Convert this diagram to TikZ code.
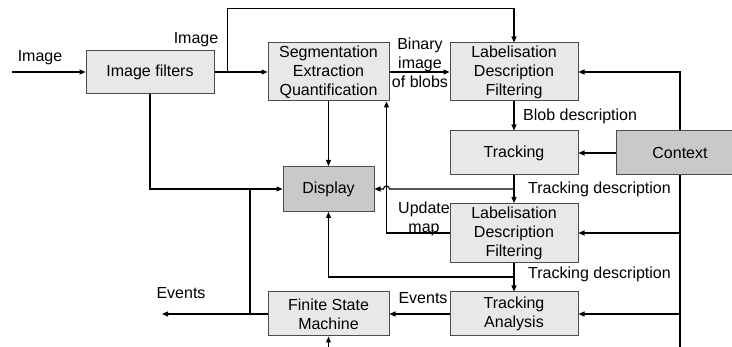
\documentclass[tikz,border=0pt]{standalone}
\usepackage{fontspec}
\setmainfont{Liberation Sans}
\usetikzlibrary{arrows.meta}
\begin{document}
\begin{tikzpicture}[x=1pt, y=-1pt, font=\fontsize{16}{19}\selectfont,
    blk/.style={rectangle, draw=black!70, line width=1pt, fill=black!9, align=center, inner sep=0pt, minimum width=128pt, minimum height=44pt},
    dblk/.style={blk, fill=black!21},
    lbl/.style={inner sep=0pt, align=center},
    wire/.style={line width=1.1pt},
    flow/.style={wire, -{Triangle[length=6pt,width=5pt]}}]
    \useasboundingbox (0,0) rectangle (732,347);

    \node[blk, minimum height=43pt] (filt) at (150,72) {Image filters};
    \node[blk, minimum width=121pt, minimum height=58pt] (seg) at (328.5,72) {Segmentation\\Extraction\\Quantification};
    \node[blk, minimum height=58pt] (lab1) at (514,72) {Labelisation\\Description\\Filtering};
    \node[blk] (track) at (514,153) {Tracking};
    \node[dblk] (ctx) at (680,153) {Context};
    \node[dblk, minimum width=91pt, minimum height=45pt] (disp) at (328.5,189) {Display};
    \node[blk, minimum height=59pt] (lab2) at (514,233) {Labelisation\\Description\\Filtering};
    \node[blk] (ta) at (514,314) {Tracking\\Analysis};
    \node[blk, minimum width=121pt] (fsm) at (328.5,314) {Finite State\\Machine};

    \node[lbl, xshift=-110pt, yshift=14pt] (in_lbl) at (filt) {Image};
    \node[lbl, xshift=46pt, yshift=32pt] (img_lbl) at (filt) {Image};
    \node[lbl, xshift=91.5pt, yshift=9pt] (bin_lbl) at (seg) {Binary\\image\\of blobs};
    \node[lbl, anchor=west, xshift=9pt, yshift=-44pt] (blob_lbl) at (lab1) {Blob description};
    \node[lbl, anchor=west, xshift=14pt, yshift=-36pt] (trd1_lbl) at (track) {Tracking description};
    \node[lbl, xshift=-90pt, yshift=14pt] (upd_lbl) at (lab2) {Update\\map};
    \node[lbl, anchor=west, xshift=14pt, yshift=-41pt] (trd2_lbl) at (lab2) {Tracking description};
    \node[lbl, xshift=-91pt, yshift=16pt] (ev1_lbl) at (ta) {Events};
    \node[lbl, xshift=-147.5pt, yshift=21pt] (ev2_lbl) at (fsm) {Events};

    \coordinate (src) at (12,72);
    \coordinate (evout) at (162,314);
    \coordinate (evsplit) at (250,189);
    \coordinate (dispret) at (514,277);
    \coordinate (fsmin) at (328.5,347);
    \coordinate (ctxend) at (680,347);

    \draw[flow] (src) -- (filt.west);
    \draw[flow] (filt.east) -- (seg.west);
    \draw[flow] (filt.east) ++ (13,0) |- ([yshift=34pt]lab1.north) -- (lab1.north);
    \draw[flow] (seg.east) -- (lab1.west);
    \draw[flow] (seg.south) -- (disp.north);
    \draw[flow] (filt.south) |- (disp.west);
    \draw[wire] (evsplit) -- (evsplit |- fsm.west);
    \draw[flow] (lab1.south) -- (track.north);
    \draw[flow] (ctx.west) -- (track.east);
    \draw[flow] (ctx.north) |- (lab1.east);
    \draw[flow] (ctx.south) |- (lab2.east);
    \draw[flow] (ctx.south) |- (ta.east);
    \draw[wire] (ctx.south) -- (ctxend);
    \draw[flow] (track.south) -- (lab2.north);
    \draw[flow] (track.south |- disp.east) -- ([xshift=15pt]disp.east) arc[start angle=0, end angle=180, radius=3pt] -- (disp.east);
    \draw[flow] (lab2.west) -| ([xshift=-3pt]seg.south east);
    \draw[flow] (lab2.south) -- (ta.north);
    \draw[flow] (dispret) -| (disp.south);
    \draw[flow] (ta.west) -- (fsm.east);
    \draw[flow] (fsm.west) -- (evout);
    \draw[flow] (fsmin) -- (fsm.south);
\end{tikzpicture}
\end{document}
